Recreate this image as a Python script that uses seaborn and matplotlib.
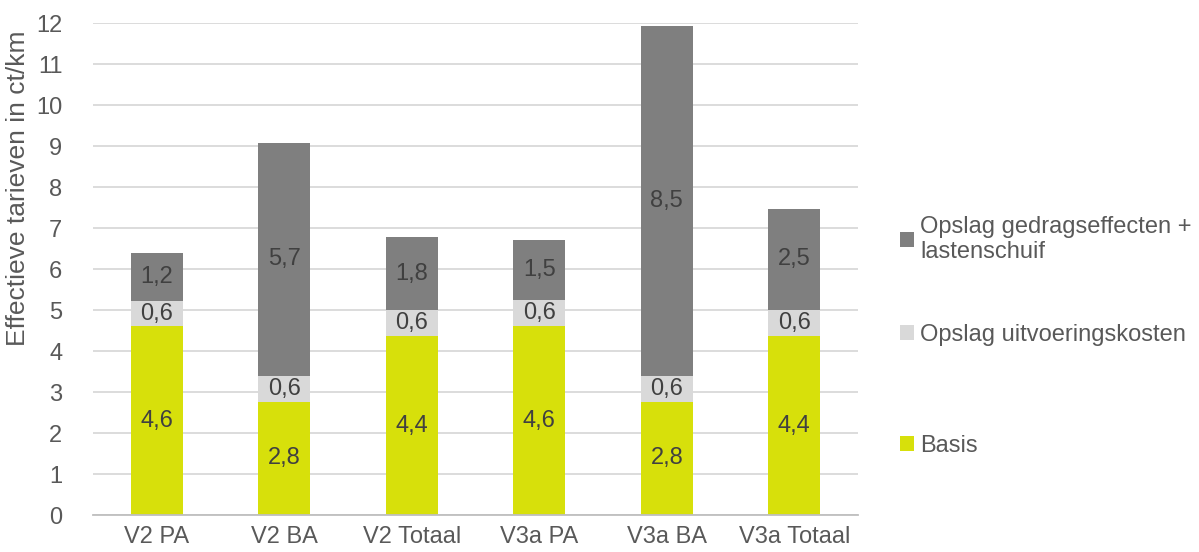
import matplotlib
matplotlib.use("Agg")
import matplotlib.pyplot as plt
import seaborn as sns
import pandas as pd
from matplotlib.patches import Patch

categories = ["V2 PA", "V2 BA", "V2 Totaal", "V3a PA", "V3a BA", "V3a Totaal"]
basis = [4.6, 2.76, 4.36, 4.6, 2.76, 4.36]
uitvoering = [0.62, 0.64, 0.64, 0.64, 0.64, 0.64]
gedrag = [1.17, 5.68, 1.78, 1.48, 8.52, 2.47]

names = ["Basis", "Opslag uitvoeringskosten", "Opslag gedragseffecten +\nlastenschuif"]
colors = ["#D7E00B", "#D9D9D9", "#7F7F7F"]
text_col = "#595959"

sns.set_theme(style="white")
plt.rcParams["font.family"] = ["Liberation Sans", "DejaVu Sans"]

df = pd.DataFrame({"cat": categories, "basis": basis, "uitv": uitvoering, "gedrag": gedrag})
df["b2"] = df["basis"] + df["uitv"]

fig = plt.figure(figsize=(11.99, 5.52), dpi=100)
ax = fig.add_axes([0.0776, 0.067, 0.638, 0.891])
ax.yaxis.grid(True, color="#D9D9D9", linewidth=1.3, zorder=0)
ax.set_axisbelow(True)

layers = [("basis", None), ("uitv", "basis"), ("gedrag", "b2")]
for (col, bot), c in zip(layers, colors):
    kw = {} if bot is None else {"bottom": df[bot]}
    sns.barplot(data=df, x="cat", y=col, color=c, width=0.41, saturation=1,
                linewidth=0, ax=ax, zorder=2, **kw)

for cont, vals in zip(ax.containers, [basis, uitvoering, gedrag]):
    labels = [f"{v:.1f}".replace(".", ",") for v in vals]
    ax.bar_label(cont, labels=labels, label_type="center", fontsize=17, color="#404040")

ax.set_ylim(0, 12)
ax.set_yticks(range(0, 13))
ax.set_xlim(-0.5, 5.5)
ax.set_xlabel("")
ax.set_ylabel("Effectieve tarieven in ct/km", fontsize=19, color=text_col)
ax.yaxis.set_label_coords(-0.082, 0.665)
ax.tick_params(axis="both", labelsize=17, colors=text_col, length=0)
ax.tick_params(axis="y", pad=22)
ax.tick_params(axis="x", pad=8)
for s in ["top", "right", "left"]:
    ax.spines[s].set_visible(False)
ax.spines["bottom"].set_color("#BFBFBF")
ax.spines["bottom"].set_linewidth(1.3)

# one legend entry per block, spaced like the original
legend_y = [0.192, 0.393, 0.566]
for name, c, y in zip(names, colors, legend_y):
    leg = fig.legend([Patch(facecolor=c, edgecolor="none")], [name], loc="center left",
                     bbox_to_anchor=(0.733, y), frameon=False, fontsize=17,
                     handlelength=0.6, handleheight=0.6, handletextpad=0.25)
    for t in leg.get_texts():
        t.set_color(text_col)

fig.savefig("out.png", dpi=100)
